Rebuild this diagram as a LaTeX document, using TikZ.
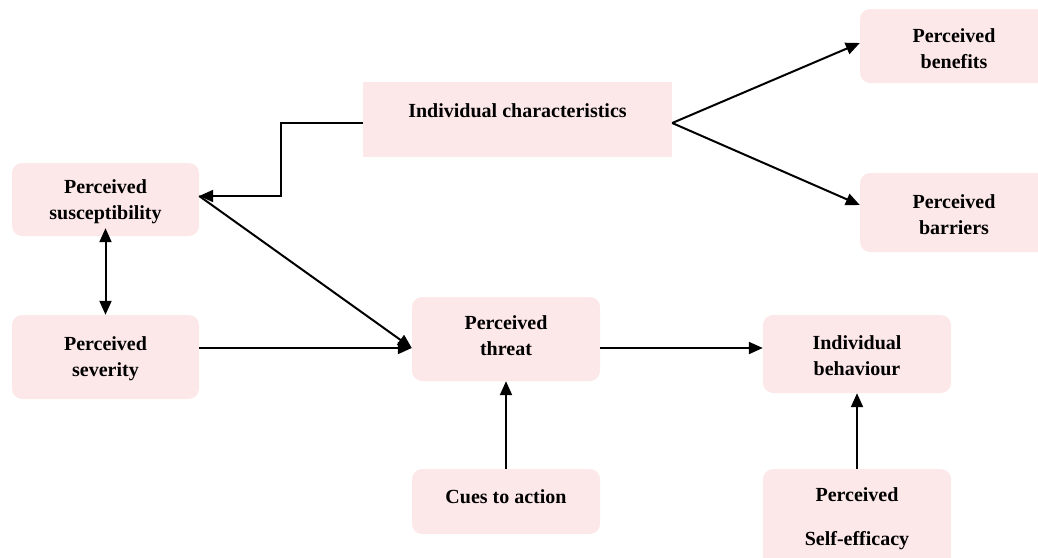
\documentclass[tikz,border=0pt]{standalone}
\usepackage{fontspec}
\setmainfont{Liberation Serif}
\usetikzlibrary{arrows.meta}
\definecolor{boxpink}{RGB}{253,232,233}
\begin{document}
\begin{tikzpicture}[x=1pt,y=-1pt,
  box/.style={fill=boxpink,draw=none,rounded corners=10pt,minimum width=188pt,inner sep=0pt},
  sqbox/.style={fill=boxpink,draw=none,inner sep=0pt},
  lbl/.style={font=\fontsize{20}{26}\selectfont\bfseries,align=center,inner sep=0pt},
  arr/.style={line width=2pt,-{Triangle[length=14pt,width=12pt]}},
  darr/.style={line width=2pt,{Triangle[length=14pt,width=12pt]}-{Triangle[length=14pt,width=12pt]}}]
\useasboundingbox (0,0) rectangle (1038,557);
% boxes
\node[sqbox,minimum width=309pt,minimum height=75pt] (ic) at (517.5,119.5) {};
\node[lbl] (ict) at (517.5,111) {Individual characteristics};
\node[box,minimum height=74pt] (ben) at (954,46) {};
\node[lbl] (bent) at (954,49) {Perceived\\benefits};
\node[box,minimum height=79pt] (bar) at (954,212.5) {};
\node[lbl] (bart) at (954,215) {Perceived\\barriers};
\node[box,minimum height=73pt,minimum width=187pt] (sus) at (105.5,199.5) {};
\node[lbl] (sust) at (105.5,202) {Perceived\\susceptibility};
\node[box,minimum height=84pt,minimum width=187pt] (sev) at (105.5,357) {};
\node[lbl] (sevt) at (105.5,359) {Perceived\\severity};
\node[box,minimum height=84pt] (thr) at (506,339) {};
\node[lbl] (thrt) at (506,336) {Perceived\\threat};
\node[box,minimum height=65pt] (cue) at (506,501.5) {};
\node[lbl] (cuet) at (506,497) {Cues to action};
\node[box,minimum height=78pt] (beh) at (857,354) {};
\node[lbl] (beht) at (857,355.5) {Individual\\behaviour};
\node[box,minimum height=100pt] (se) at (857,519) {};
\node[lbl,font=\fontsize{20}{44}\selectfont\bfseries] (set) at (857,519) {Perceived\\Self-efficacy};
% connectors
\draw[arr] ([yshift=-3.5]ic.west) -- ++(-82,0) |- ([yshift=3.5]sus.east);
\draw[arr] ([yshift=-3.5]ic.east) -- ([yshift=3]ben.west);
\draw[arr] ([yshift=-3.5]ic.east) -- ([yshift=7.5]bar.west);
\draw[arr] ([yshift=3.5]sus.east) -- ([yshift=-9]thr.west);
\draw[darr] ([yshift=8]sus.south) -- (sev.north);
\draw[arr] ([yshift=9]sev.east) -- ([yshift=9]sev.east -| thr.west);
\draw[arr] ([yshift=-9]thr.east) -- ([yshift=-9]thr.east -| beh.west);
\draw[arr] (cue.north) -- (thr.south);
\draw[arr] (se.north) -- (beh.south);
\end{tikzpicture}
\end{document}
